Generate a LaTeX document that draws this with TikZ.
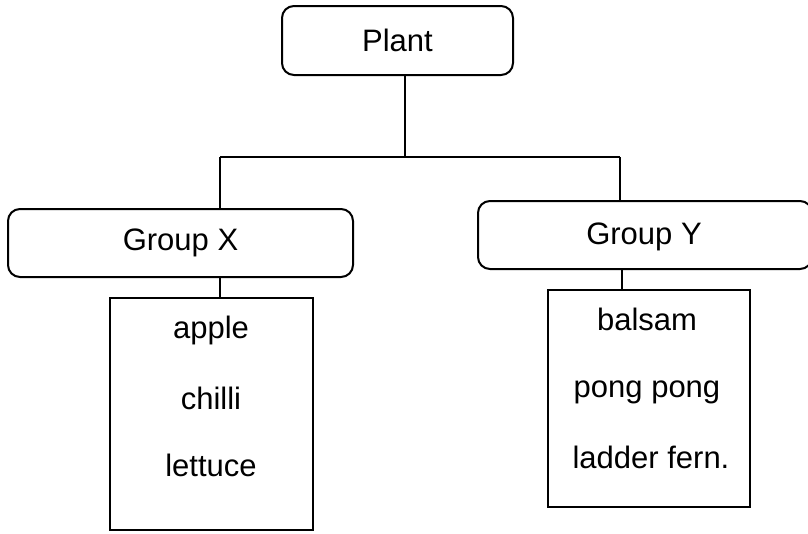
\documentclass[tikz,border=0pt]{standalone}
\usepackage{fontspec}
\setmainfont{Liberation Sans}
\begin{document}
\begin{tikzpicture}[x=1pt,y=-1pt,
  every node/.style={font=\fontsize{31}{37}\selectfont},
  catbox/.style={draw,line width=2pt,rounded corners=12pt,inner sep=0pt},
  listbox/.style={draw,line width=1.6pt,inner sep=0pt},
  item/.style={inner sep=0pt,anchor=center},
  conn/.style={line width=1.8pt}]
\useasboundingbox (0,0) rectangle (808,533);
\node[catbox,minimum width=231pt,minimum height=69pt] (plant) at (397.5,40.5) {Plant};
\node[catbox,minimum width=345pt,minimum height=68pt] (gx) at (180.5,243) {Group X};
\node[catbox,minimum width=334pt,minimum height=68pt] (gy) at (645,235) {};
\node[item] (gyt) at (644,237) {Group Y};
\node[listbox,minimum width=203pt,minimum height=232pt] (lx) at (211.5,414) {};
\node[listbox,minimum width=202pt,minimum height=217pt] (ly) at (649,398.5) {};
\node[item] (a1) at (211,330) {apple};
\node[item] (a2) at (211,398) {chilli};
\node[item] (a3) at (211,465) {lettuce};
\node[item] (b1) at (647,319) {balsam};
\node[item] (b2) at (647,392) {pong pong};
\node[item] (b3) at (651,457) {ladder fern.};
\coordinate (jtop) at (405,157);
\coordinate (jl) at (220,157);
\coordinate (jr) at (620,157);
\coordinate (cy) at (622,280);
\draw[conn] (plant.south -| jtop) -- (jtop);
\draw[conn] (jl) -- (jr);
\draw[conn] (jl) -- (jl |- gx.north);
\draw[conn] (jr) -- (jr |- gy.north);
\draw[conn] (gx.south -| jl) -- (jl |- lx.north);
\draw[conn] (gy.south -| cy) -- (cy |- ly.north);
\end{tikzpicture}
\end{document}
